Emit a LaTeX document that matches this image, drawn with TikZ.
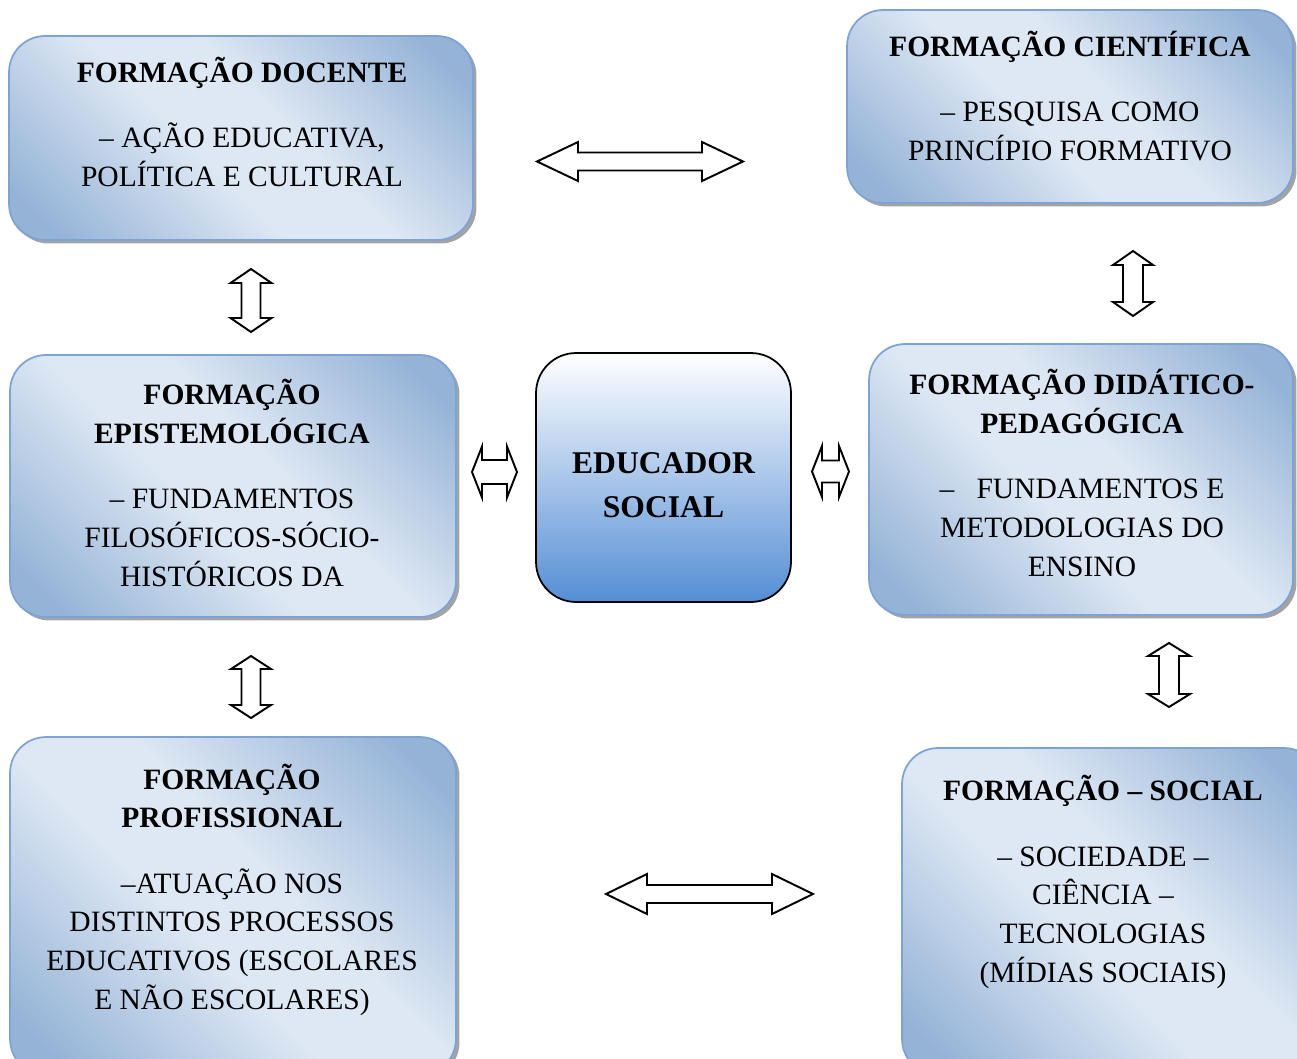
\documentclass[tikz,border=0pt]{standalone}
\usepackage{fontspec}
\setmainfont{Liberation Serif}
\usetikzlibrary{shadows}
\definecolor{bdark}{RGB}{149,179,215}
\definecolor{blight}{RGB}{222,232,244}
\definecolor{bedge}{RGB}{125,162,212}
\definecolor{edubot}{RGB}{85,142,213}
\pgfdeclareverticalshading{boxshade}{100bp}{color(0bp)=(bdark); color(20bp)=(bdark); color(44bp)=(blight); color(56bp)=(blight); color(80bp)=(bdark); color(100bp)=(bdark)}
\begin{document}
\begin{tikzpicture}[x=0.02cm,y=-0.02cm,
  fbox/.style={rounded corners=0.72cm, draw=bedge, line width=1pt,
    shading=boxshade, shading angle=-45,
    drop shadow={shadow xshift=2pt, shadow yshift=-2pt, fill=black!60, opacity=0.6},
    inner sep=0pt},
  edubox/.style={rounded corners=0.8cm, draw=black, line width=1pt,
    top color=white, bottom color=edubot, inner sep=0pt},
  txt/.style={align=center, inner sep=0pt, anchor=base,
    font=\fontsize{16.8}{22.1}\selectfont},
  edutxt/.style={align=center, inner sep=0pt, anchor=base,
    font=\fontsize{18}{25}\selectfont\bfseries},
  arrowline/.style={draw=black, fill=white, line width=1.1pt, line join=miter},
  pics/dblarrow/.style n args={4}{code={%
    \path[arrowline] (-#1,0) -- (-#1+#2,#4) -- (-#1+#2,#3) -- (#1-#2,#3) -- (#1-#2,#4)
      -- (#1,0) -- (#1-#2,-#4) -- (#1-#2,-#3) -- (-#1+#2,-#3) -- (-#1+#2,-#4) -- cycle;
  }}
]
\useasboundingbox (0,0) rectangle (1297,1058);
\begin{scope}
\clip (0,0) rectangle (1297,1058);
% boxes
\node[fbox, minimum width=9.28cm, minimum height=4.08cm] (doc) at (241,138) {};
\node[fbox, minimum width=8.92cm, minimum height=3.86cm] (cie) at (1070,106.5) {};
\node[fbox, minimum width=8.92cm, minimum height=5.24cm] (epi) at (233,486) {};
\node[edubox, minimum width=5.10cm, minimum height=4.98cm] (edu) at (663.5,477.5) {};
\node[fbox, minimum width=8.48cm, minimum height=5.42cm] (did) at (1081,479.5) {};
\node[fbox, minimum width=8.92cm, minimum height=6.76cm] (pro) at (233,906) {};
\node[fbox, minimum width=8.36cm, minimum height=6.54cm] (soc) at (1111,911.5) {};
\end{scope}
% texts (anchored at the baseline of their last line)
\node[txt] (doc-t) at (242,186.6) {\textbf{FORMAÇÃO DOCENTE}\\[15pt]– AÇÃO EDUCATIVA,\\POLÍTICA E CULTURAL};
\node[txt] (cie-t) at (1070,160.6) {\textbf{FORMAÇÃO CIENTÍFICA}\\[15pt]– PESQUISA COMO\\PRINCÍPIO FORMATIVO};
\node[txt] (epi-t) at (232,586.6) {\textbf{FORMAÇÃO}\\\textbf{EPISTEMOLÓGICA}\\[15pt]– FUNDAMENTOS\\FILOSÓFICOS-SÓCIO-\\HISTÓRICOS DA};
\node[edutxt] (edu-t) at (663.5,517.5) {EDUCADOR\\SOCIAL};
\node[txt] (did-t) at (1082,576.6) {\textbf{FORMAÇÃO DIDÁTICO-}\\\textbf{PEDAGÓGICA}\\[15pt]–\ \ \ FUNDAMENTOS E\\METODOLOGIAS DO\\ENSINO};
\node[txt] (pro-t) at (232,1009.6) {\textbf{FORMAÇÃO}\\\textbf{PROFISSIONAL}\\[15pt]–ATUAÇÃO NOS\\DISTINTOS PROCESSOS\\EDUCATIVOS (ESCOLARES\\E NÃO ESCOLARES)};
\node[txt] (soc-t) at (1103,982.6) {\textbf{FORMAÇÃO – SOCIAL}\\[15pt]– SOCIEDADE –\\CIÊNCIA –\\TECNOLOGIAS\\(MÍDIAS SOCIAIS)};
% double arrows
\pic at (640,161.5) {dblarrow={103}{41}{9}{19.5}};
\pic at (709.5,894) {dblarrow={103.5}{41}{9}{20}};
\pic at (494.5,472) {dblarrow={22.5}{10}{12}{25.5}};
\pic at (830.5,471.5) {dblarrow={18.5}{10}{11}{25.5}};
\pic[rotate=90] at (251,300.5) {dblarrow={31.5}{14}{9.5}{20.5}};
\pic[rotate=90] at (1133,283.5) {dblarrow={32.5}{14}{10}{20}};
\pic[rotate=90] at (251,687) {dblarrow={31}{13}{9.5}{20}};
\pic[rotate=90] at (1169,675) {dblarrow={32}{13}{10}{21}};
\end{tikzpicture}
\end{document}
